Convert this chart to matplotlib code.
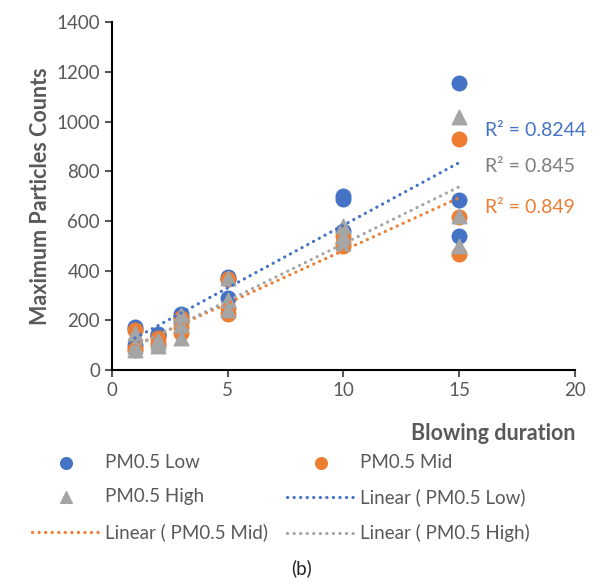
import numpy as np
import matplotlib
matplotlib.use('Agg')
import matplotlib.pyplot as plt

plt.rcParams['font.family'] = ['Lato', 'DejaVu Sans']

# duracion de soplado (repetidas 3 veces)
x = np.array([1, 1, 1, 2, 2, 2, 3, 3, 3, 5, 5, 5, 10, 10, 10, 15, 15, 15])

pm_low = np.array([175, 100, 165, 140, 135, 145, 225, 215, 195,
                   375, 365, 290, 700, 690, 560, 1155, 685, 540])
pm_mid = np.array([160, 80, 85, 100, 130, 110, 210, 150, 175,
                   365, 225, 250, 500, 540, 510, 930, 615, 465])
pm_high = np.array([150, 80, 95, 110, 120, 95, 220, 130, 180,
                    370, 240, 280, 580, 510, 540, 1020, 620, 500])

r2_labels = ['R² = 0.8244', 'R² = 0.849', 'R² = 0.845']
r2_y = [965, 656, 820]

azul = '#4472C4'
naranja = '#ED7D31'
gris = '#A5A5A5'
texto = '#595959'

fig = plt.figure(figsize=(6.04, 5.85), dpi=100)
ax = fig.add_axes([0.185, 0.3675, 0.767, 0.5945])

series = [(pm_low, azul, 'o', 'PM0.5 Low'),
          (pm_mid, naranja, 'o', 'PM0.5 Mid'),
          (pm_high, gris, '^', 'PM0.5 High')]

marcas = {}
lineas = {}
for y, c, m, nombre in series:
    marcas[nombre] = ax.scatter(x, y, s=110, color=c, marker=m, zorder=3, label=nombre)

for y, c, m, nombre in series:
    p = np.polyfit(x, y, 1)
    xs = np.array([1, 15])
    ln, = ax.plot(xs, np.polyval(p, xs), color=c, lw=2.3,
                  linestyle=(0, (0.05, 2.0)), dash_capstyle='round', zorder=4,
                  label='Linear ( %s)' % nombre)
    lineas[nombre] = ln

for lab, yy, c in zip(r2_labels, r2_y, [azul, naranja, '#7F7F7F']):
    ax.text(16.1, yy, lab, color=c, fontsize=14, va='center', ha='left')

ax.set_xlim(0, 20)
ax.set_ylim(0, 1400)
ax.set_xticks([0, 5, 10, 15, 20])
ax.set_yticks(range(0, 1401, 200))
ax.tick_params(colors=texto, labelsize=13.5, length=5, width=1.5, direction='out')
for t in ax.get_xticklines() + ax.get_yticklines():
    t.set_color('black')
for s in ['top', 'right']:
    ax.spines[s].set_visible(False)
for s in ['left', 'bottom']:
    ax.spines[s].set_linewidth(1.5)
    ax.spines[s].set_color('black')

ax.set_ylabel('Maximum Particles Counts', fontsize=15.5, fontweight='bold', color=texto)
fig.text(0.952, 0.259, 'Blowing duration', fontsize=15.5, fontweight='bold',
         color=texto, ha='right', va='center')

handles = [marcas['PM0.5 Low'], marcas['PM0.5 High'], lineas['PM0.5 Mid'],
           marcas['PM0.5 Mid'], lineas['PM0.5 Low'], lineas['PM0.5 High']]
labels = [h.get_label() for h in handles]
leg = fig.legend(handles, labels, ncol=2, loc='center', bbox_to_anchor=(0.465, 0.149),
                 frameon=False, fontsize=13.5, columnspacing=1.0, handlelength=3.6,
                 handletextpad=0.3, labelspacing=0.95, markerscale=0.8)
for t in leg.get_texts():
    t.set_color(texto)

fig.text(0.5, 0.029, '(b)', fontsize=13.5, ha='center', va='center', color='#222222')

plt.savefig('out.png', dpi=100)
plt.close()
